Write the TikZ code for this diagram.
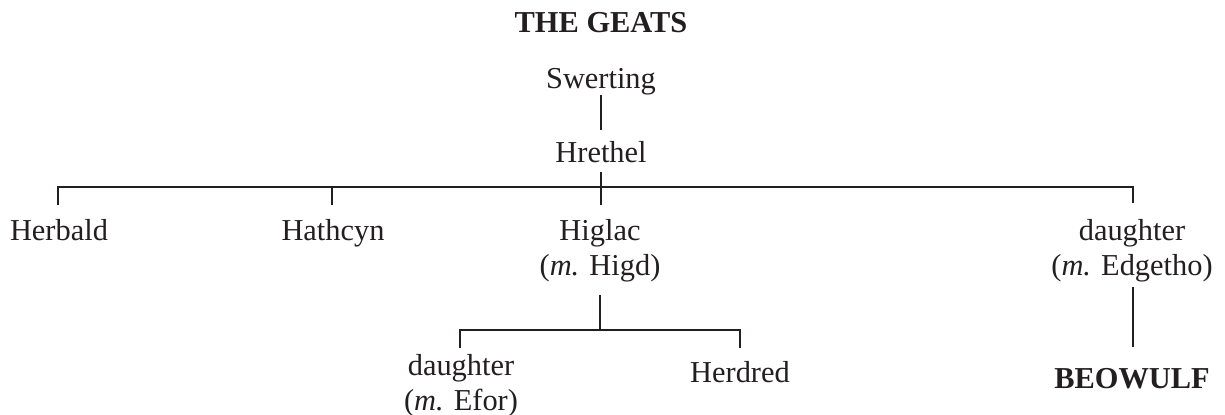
\documentclass[tikz,border=0pt]{standalone}
\usepackage{fontspec}
\setmainfont{Liberation Serif}
\definecolor{ink}{RGB}{35,31,32}
\begin{document}
\begin{tikzpicture}[x=0.5pt,y=-0.5pt,
  person/.style={font=\fontsize{15.2}{18}\selectfont, inner sep=0pt, anchor=base, text=ink},
  boldperson/.style={font=\fontsize{15.2}{18}\selectfont\bfseries, inner sep=0pt, anchor=base, text=ink},
  link/.style={line width=1.3pt, draw=ink}]
\useasboundingbox (0,0) rectangle (1225,414);
% names
\node[boldperson] (title) at (601,32) {THE GEATS};
\node[person] (swerting) at (601,88) {Swerting};
\node[person] (hrethel) at (601,162) {Hrethel};
\node[person] (herbald) at (59,240) {Herbald};
\node[person] (hathcyn) at (333,240) {Hathcyn};
\node[person] (higlac) at (600,240) {Higlac};
\node[person] (higlacm) at (600,275) {(\textit{m.} Higd)};
\node[person] (daughterA) at (461,375) {daughter};
\node[person] (daughterAm) at (461,410) {(\textit{m.} Efor)};
\node[person] (herdred) at (740,382) {Herdred};
\node[person] (daughterB) at (1132,240) {daughter};
\node[person] (daughterBm) at (1132,275) {(\textit{m.} Edgetho)};
\node[boldperson] (beowulf) at (1132,388) {BEOWULF};
% junction coordinates
\coordinate (s1) at (601,95);
\coordinate (s2) at (601,130);
\coordinate (h1) at (601,172);
\coordinate (h2) at (601,205);
\coordinate (bL) at (58,187);
\coordinate (bLd) at (58,205);
\coordinate (bH) at (332,187);
\coordinate (bHd) at (332,205);
\coordinate (bR) at (1133,187);
\coordinate (bRd) at (1133,203);
\coordinate (g1) at (600,295);
\coordinate (g2) at (600,330);
\coordinate (gL) at (460,330);
\coordinate (gLd) at (460,348);
\coordinate (gR) at (740,330);
\coordinate (gRd) at (740,348);
\coordinate (e1) at (1133,287);
\coordinate (e2) at (1133,347);
% connectors
\draw[link] (s1) -- (s2);
\draw[link] (h1) -- (h2);
\draw[link] (bLd) -- (bL) -- (bR) -- (bRd);
\draw[link] (bH) -- (bHd);
\draw[link] (g1) -- (g2);
\draw[link] (gLd) -- (gL) -- (gR) -- (gRd);
\draw[link] (e1) -- (e2);
\end{tikzpicture}
\end{document}
